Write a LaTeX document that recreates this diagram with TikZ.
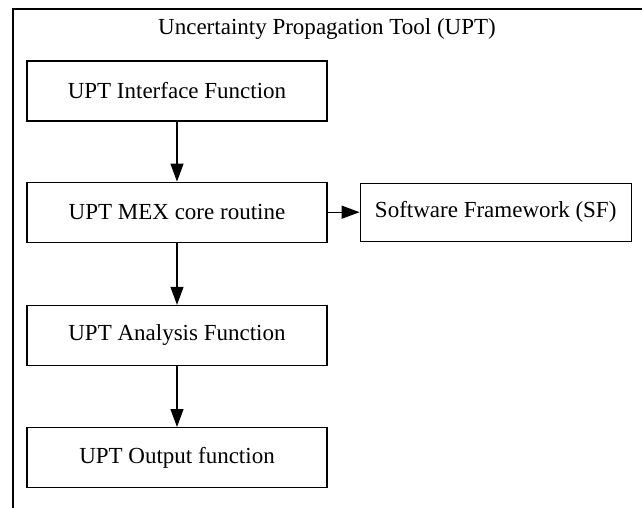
\documentclass[tikz,border=0pt]{standalone}
\usepackage{fontspec}
\setmainfont{Liberation Serif}
\usetikzlibrary{positioning,
				arrows.meta}
\tikzset{
	block/.style={draw, line width=1.2pt, minimum width=300pt, minimum height=60pt,
		inner sep=0pt, font=\fontsize{23}{28}\selectfont},
	flow/.style={line width=1.2pt, -{Triangle[length=18pt,width=13pt]}}
}

\begin{document}
\begin{tikzpicture}[x=1pt,y=-1pt]
		\useasboundingbox (0,0) rectangle (642,508);
		\clip (0,0) rectangle (642,508);
		% outer frame, runs off the page on the right and bottom
		\draw[line width=1.2pt] (13,530) -- (13,9) -- (680,9);
		\node[font=\fontsize{23}{28}\selectfont] (title) at (327,29) {Uncertainty Propagation Tool (UPT)};

		\node[block] (iface) at (177,91) {UPT Interface Function};
		\node[block, below=60pt of iface] (mex) {UPT MEX core routine};
		\node[block, minimum width=271pt, minimum height=58pt, right=32pt of mex] (sf) {Software Framework (SF)};
		\node[block, below=62pt of mex] (anal) {UPT Analysis Function};
		\node[block, below=61pt of anal] (out) {UPT Output function};

		\draw[flow] (iface) -- (mex);
		\draw[flow] (mex) -- (sf);
		\draw[flow] (mex) -- (anal);
		\draw[flow] (anal) -- (out);
	\end{tikzpicture}
\end{document}
